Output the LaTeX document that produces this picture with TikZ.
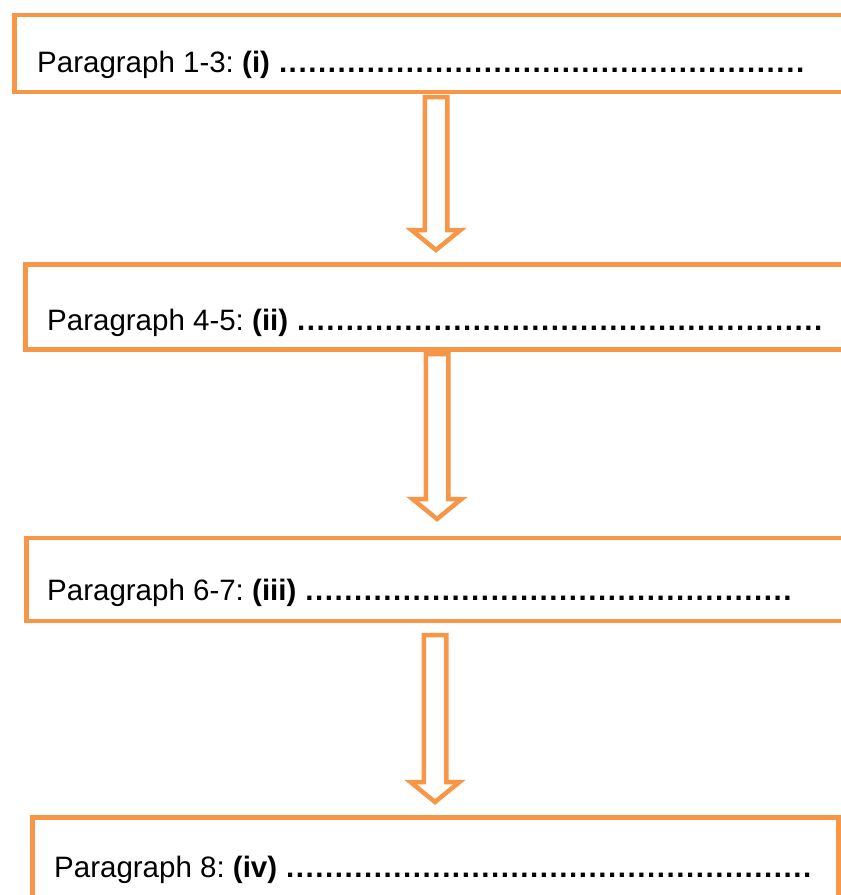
\documentclass[tikz,border=0pt]{standalone}
\usepackage{fontspec}
\setmainfont{Liberation Sans}
\usetikzlibrary{calc}
\definecolor{boxorange}{HTML}{F79646}
\frenchspacing
% row of #1 bold dots
\newcommand\dotrow[1]{\textbf{\hbox to #1\dimexpr9.75pt\relax{\cleaders\hbox to 9.75pt{\hss.\hss}\hfill}}}
% hollow block arrow from #1 (top) down to #2 (tip)
\newcommand\hollowarrow[2]{%
  \draw[down arrow] let \p1=(#1), \p2=(#2) in
    (\x1-11.25pt,\y1) -- (\x1+11.25pt,\y1) -- (\x1+11.25pt,\y2+20pt) -- (\x1+24.5pt,\y2+20pt)
    -- (\x1,\y2) -- (\x1-24.5pt,\y2+20pt) -- (\x1-11.25pt,\y2+20pt) -- cycle;}
\begin{document}
\begin{tikzpicture}[x=1pt,y=1pt]
    \tikzstyle{para box} = [draw=boxorange, line width=4.5pt, rectangle, inner sep=0pt, anchor=north west]
    \tikzstyle{para text} = [anchor=base west, inner sep=0pt, font=\fontsize{29.5}{35}\selectfont]
    \tikzstyle{down arrow} = [draw=boxorange, line width=4.5pt, fill=white, line join=miter]
    \useasboundingbox (0,0) rectangle (841,-895);
    \clip (0,0) rectangle (841,-895);
    % boxes
    \node[para box, minimum width=838pt, minimum height=77pt] (box1) at (12,-12.5) {};
    \node[para box, minimum width=827pt, minimum height=85pt] (box2) at (23,-262) {};
    \node[para box, minimum width=820pt, minimum height=83pt] (box3) at (24,-535.5) {};
    \node[para box, minimum width=806pt, minimum height=90pt] (box4) at (30,-815) {};
    % texts
    \node[para text] (text1) at (37,-72) {Paragraph 1-3: \textbf{(i)} \dotrow{54}};
    \node[para text] (text2) at (47,-330) {Paragraph 4-5: \textbf{(ii)} \dotrow{54}};
    \node[para text] (text3) at (47,-600) {Paragraph 6-7: \textbf{(iii)} \dotrow{50}};
    \node[para text] (text4) at (54,-877) {Paragraph 8: \textbf{(iv)} \dotrow{54}};
    % arrows
    \coordinate (top1) at (436,-97);
    \coordinate (tip1) at (436,-250);
    \coordinate (top2) at (437,-354);
    \coordinate (tip2) at (437,-519);
    \coordinate (top3) at (435,-635);
    \coordinate (tip3) at (435,-802);
    \hollowarrow{top1}{tip1}
    \hollowarrow{top2}{tip2}
    \hollowarrow{top3}{tip3}
\end{tikzpicture}
\end{document}
